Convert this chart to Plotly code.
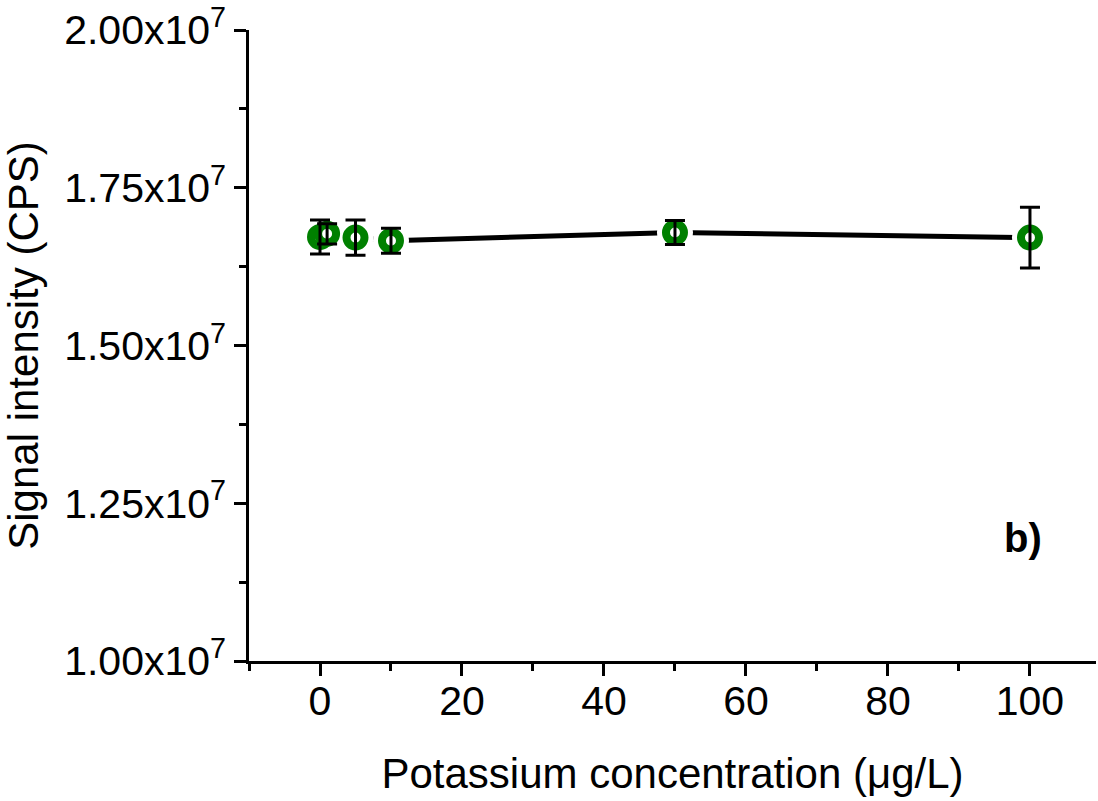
import plotly.graph_objects as go

conc = [0, 1, 5, 10, 50, 100]
signal = [1.672e7, 1.677e7, 1.671e7, 1.666e7, 1.679e7, 1.671e7]
err = [2.7e5, 1.6e5, 2.8e5, 2.0e5, 1.9e5, 4.8e5]

y_ticks = [1.00e7, 1.25e7, 1.50e7, 1.75e7, 2.00e7]
y_ticktext = ["1.00x10<sup>7</sup>", "1.25x10<sup>7</sup>", "1.50x10<sup>7</sup>",
              "1.75x10<sup>7</sup>", "2.00x10<sup>7</sup>"]
y_minor = [1.125e7, 1.375e7, 1.625e7, 1.875e7]
x_ticks = [0, 20, 40, 60, 80, 100]
x_minor = [-10, 10, 30, 50, 70, 90]

FONT = "Liberation Sans, Arial, sans-serif"
GREEN = "#008000"

fig = go.Figure()
# connecting line
fig.add_trace(go.Scatter(x=conc, y=signal, mode="lines",
                         line=dict(color="black", width=5), hoverinfo="skip"))
# white gap around symbols
fig.add_trace(go.Scatter(x=conc, y=signal, mode="markers",
                         marker=dict(symbol="circle", size=36, color="white", line=dict(width=0)),
                         hoverinfo="skip"))
# green ring symbols
fig.add_trace(go.Scatter(x=conc, y=signal, mode="markers",
                         marker=dict(symbol="circle", size=18, color="white",
                                     line=dict(color=GREEN, width=8))))
# error bars on top
fig.add_trace(go.Scatter(x=conc, y=signal, mode="markers",
                         marker=dict(size=1, color="rgba(0,0,0,0)"),
                         error_y=dict(type="data", array=err, visible=True,
                                      color="black", thickness=3, width=10)))

axis_common = dict(showline=True, linecolor="black", linewidth=2.5, showgrid=False,
                   zeroline=False, ticks="outside", tickcolor="black", tickwidth=2.5,
                   ticklen=12, tickfont=dict(family=FONT, size=41, color="black"),
                   mirror=False)

fig.update_layout(
    width=1098, height=801,
    margin=dict(l=249, r=2, t=30, b=140),
    paper_bgcolor="white", plot_bgcolor="white",
    showlegend=False,
    xaxis=dict(range=[-10, 109.3], tickmode="array", tickvals=x_ticks,
               ticklabelstandoff=-10,
               minor=dict(tickmode="array", tickvals=x_minor, ticks="outside",
                          ticklen=7, tickwidth=2.5, tickcolor="black"),
               title=dict(text="Potassium concentration (μg/L)",
                          font=dict(family=FONT, size=42, color="black"), standoff=36),
               **axis_common),
    yaxis=dict(range=[1.0e7, 2.0e7], tickmode="array", tickvals=y_ticks, ticktext=y_ticktext,
               minor=dict(tickmode="array", tickvals=y_minor, ticks="outside",
                          ticklen=7, tickwidth=2.5, tickcolor="black"),
               title=dict(text="Signal intensity (CPS)",
                          font=dict(family=FONT, size=42, color="black"), standoff=14),
               **axis_common),
    annotations=[dict(x=102.0, y=1.195e7, xref="x", yref="y", text="<b>b)</b>",
                      xanchor="right", showarrow=False,
                      font=dict(family=FONT, size=40, color="black"))],
)

fig.write_html("out.html")
